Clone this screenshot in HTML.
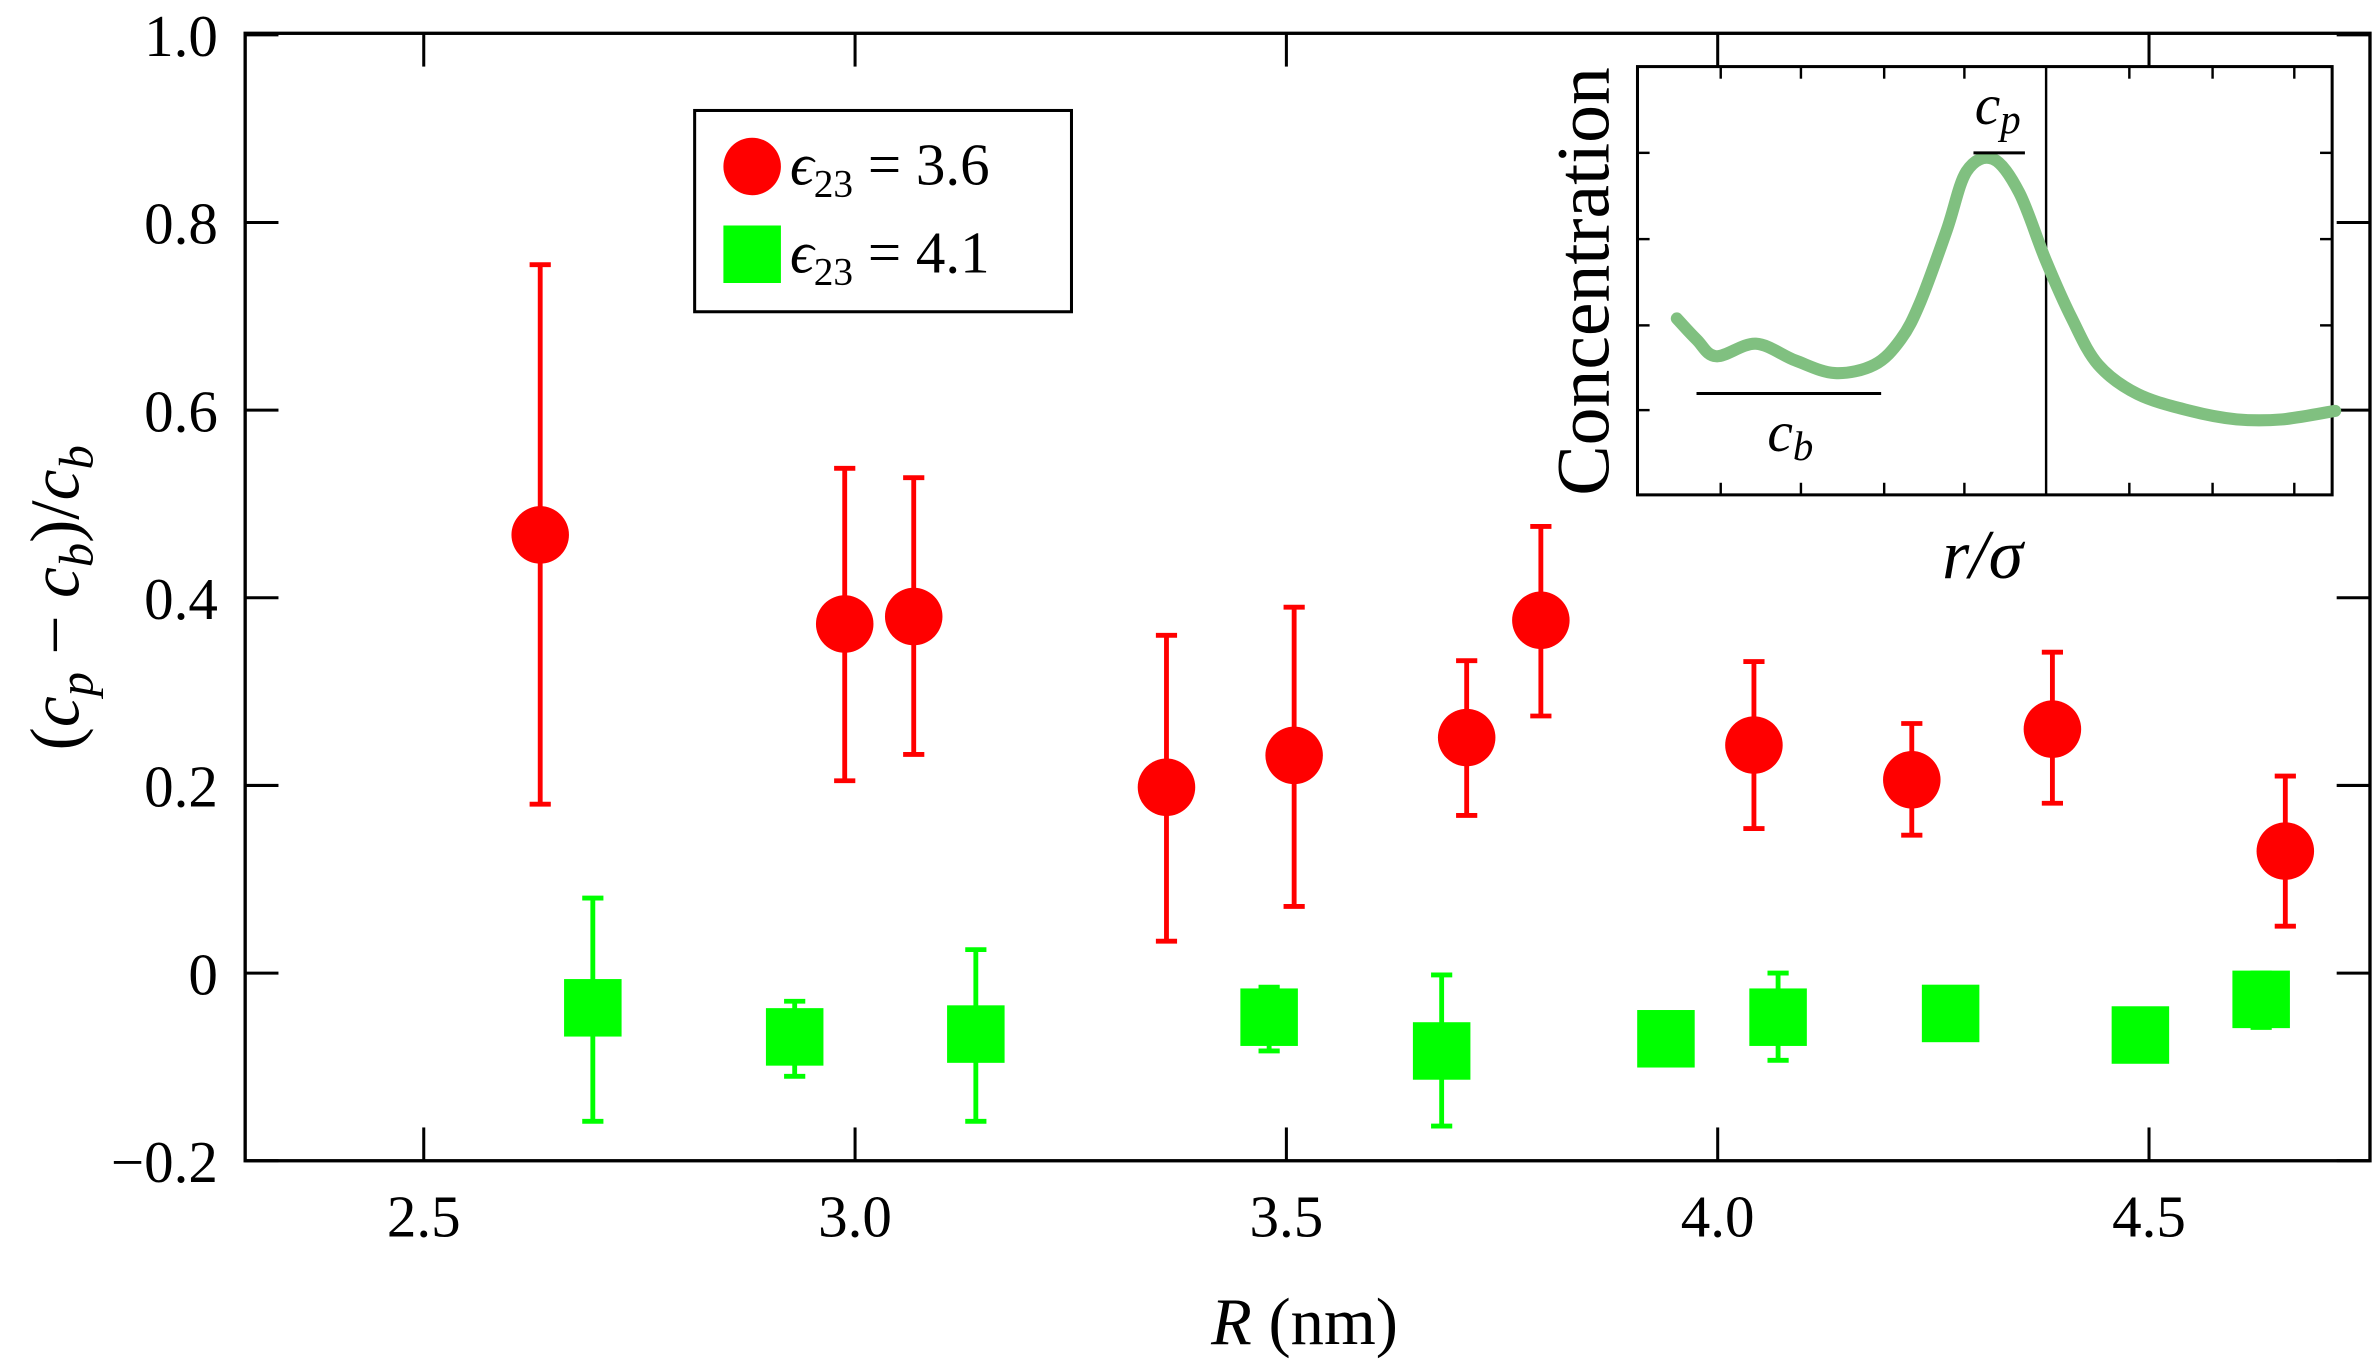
<!DOCTYPE html>
<html><head><meta charset="utf-8"><style>
html,body{margin:0;padding:0;background:#fff}
svg{display:block}
text{font-family:"Liberation Serif",serif;fill:#000}
</style></head><body>
<svg id="chart" width="2373" height="1359" viewBox="0 0 1568 898" preserveAspectRatio="none" xmlns="http://www.w3.org/2000/svg">
<g id="main"></g>
<g id="inset"></g>
</svg>
<script>
const redX=[2.635,2.988,3.068,3.361,3.509,3.709,3.795,4.042,4.225,4.388,4.658];
const redY=[0.467,0.372,0.380,0.198,0.232,0.251,0.376,0.243,0.206,0.260,0.130];
const redLo=[0.18,0.205,0.233,0.034,0.071,0.168,0.274,0.154,0.147,0.181,0.050];
const redHi=[0.755,0.538,0.528,0.360,0.390,0.333,0.476,0.332,0.266,0.342,0.210];
const grnX=[2.696,2.93,3.14,3.48,3.68,3.94,4.07,4.27,4.49,4.63];
const grnY=[-0.037,-0.068,-0.065,-0.047,-0.083,-0.070,-0.047,-0.043,-0.066,-0.028];
const grnLo=[-0.158,-0.110,-0.158,-0.083,-0.163,-0.070,-0.093,-0.043,-0.066,-0.058];
const grnHi=[0.080,-0.030,0.025,-0.015,-0.002,-0.070,0.000,-0.043,-0.066,0.000];
const xTicks=[2.5,3.0,3.5,4.0,4.5];
const xTickLabels=["2.5","3.0","3.5","4.0","4.5"];
const yTicks=[-0.2,0,0.2,0.4,0.6,0.8,1.0];
const yTickLabels=["\u22120.2","0","0.2","0.4","0.6","0.8","1.0"];
const insetR=[0,0.03,0.06,0.12,0.18,0.24,0.3,0.34,0.37,0.41,0.44,0.48,0.52,0.56,0.6,0.64,0.7,0.78,0.85,0.92,1.0];
const insetC=[0.42,0.37,0.33,0.36,0.32,0.29,0.31,0.37,0.46,0.63,0.77,0.80,0.72,0.56,0.42,0.31,0.24,0.20,0.18,0.18,0.20];

const NS="http://www.w3.org/2000/svg";
function mk(parent,tag,attrs,txt){const e=document.createElementNS(NS,tag);for(const k in attrs)e.setAttribute(k,attrs[k]);if(txt!==undefined)e.textContent=txt;parent.appendChild(e);return e;}
const L=162,R=1566,T=22,B=767;
const xs=v=>280+(v-2.5)*570;
const ys=v=>643-v*620;
const g=document.getElementById('main');

let ax=mk(g,'rect',{x:L,y:T,width:R-L,height:B-T,fill:'none',stroke:'#000','stroke-width':2.2});


xTicks.forEach((t,i)=>{
  let l=mk(g,'line',{x1:xs(t),x2:xs(t),y1:B,y2:B-22,stroke:'#000','stroke-width':2});
  
  
  mk(g,'line',{x1:xs(t),x2:xs(t),y1:T,y2:T+22,stroke:'#000','stroke-width':2});
  let tx=mk(g,'text',{x:xs(t),y:B+50,'font-size':39,'text-anchor':'middle'},xTickLabels[i]);
  
  
});
yTicks.forEach((t,i)=>{
  let l=mk(g,'line',{x1:L,x2:L+22,y1:ys(t),y2:ys(t),stroke:'#000','stroke-width':2});
  
  
  mk(g,'line',{x1:R,x2:R-22,y1:ys(t),y2:ys(t),stroke:'#000','stroke-width':2});
  let tx=mk(g,'text',{x:L-18,y:ys(t)+14,'font-size':39,'text-anchor':'end'},yTickLabels[i]);
  
  
});
let xt=mk(g,'text',{x:862,y:888,'font-size':44,'text-anchor':'middle'});


xt.innerHTML='<tspan font-style="italic">R</tspan> (nm)';
let yt=mk(g,'text',{x:0,y:0,'font-size':46,'text-anchor':'middle',transform:'translate(52,395) rotate(-90)'});


yt.innerHTML='(<tspan font-style="italic">c</tspan><tspan font-style="italic" font-size="32" dy="9">p</tspan><tspan dy="-9"> \u2212 </tspan><tspan font-style="italic">c</tspan><tspan font-style="italic" font-size="32" dy="9">b</tspan><tspan dy="-9">)/</tspan><tspan font-style="italic">c</tspan><tspan font-style="italic" font-size="32" dy="9">b</tspan>';

function series(X,Y,Lo,Hi,col,shape,name){
  const sg=mk(g,'g',{});
  
  
  X.forEach((x,i)=>{
    const px=xs(x),py=ys(Y[i]);
    if(Hi[i]!==Lo[i]){
      const eb=mk(sg,'path',{d:`M${px},${ys(Lo[i])}V${ys(Hi[i])}M${px-7},${ys(Lo[i])}H${px+7}M${px-7},${ys(Hi[i])}H${px+7}`,stroke:col,'stroke-width':3.2,fill:'none'});
      
      
    }
    let m;
    if(shape==='c') m=mk(sg,'circle',{cx:px,cy:py,r:19,fill:col});
    else m=mk(sg,'rect',{x:px-19,y:py-19,width:38,height:38,fill:col});
    
    
  });
}
series(redX,redY,redLo,redHi,'#ff0000','c','series-eps-3-6');
series(grnX,grnY,grnLo,grnHi,'#00ff00','s','series-eps-4-1');

const lg=mk(g,'g',{});


mk(lg,'rect',{x:459,y:73,width:249,height:133,fill:'#fff',stroke:'#000','stroke-width':2});
mk(lg,'circle',{cx:497,cy:110,r:19,fill:'#ff0000'});
mk(lg,'rect',{x:478,y:149,width:38,height:38,fill:'#00ff00'});
let l1=mk(lg,'text',{x:522,y:122,'font-size':39});


l1.innerHTML='<tspan font-style="italic">\u03f5</tspan><tspan font-size="26" dy="8">23</tspan><tspan dy="-8"> = 3.6</tspan>';
let l2=mk(lg,'text',{x:522,y:180,'font-size':39});


l2.innerHTML='<tspan font-style="italic">\u03f5</tspan><tspan font-size="26" dy="8">23</tspan><tspan dy="-8"> = 4.1</tspan>';

const ig=document.getElementById('inset');
const iL=1082,iR=1541,iT=44,iB=327;
const ix=v=>1108+v*(1543-1108);
const iy=v=>327-v*277.5;
mk(ig,'rect',{x:iL,y:iT,width:iR-iL,height:iB-iT,fill:'#fff',stroke:'#000','stroke-width':2});
[1137,1190,1245,1298,1407,1462,1516].forEach(x=>{
  mk(ig,'line',{x1:x,x2:x,y1:iT,y2:iT+8,stroke:'#000','stroke-width':1.6});
  mk(ig,'line',{x1:x,x2:x,y1:iB,y2:iB-8,stroke:'#000','stroke-width':1.6});
});
[101,158,215,271].forEach(y=>{
  mk(ig,'line',{x1:iL,x2:iL+8,y1:y,y2:y,stroke:'#000','stroke-width':1.6});
  mk(ig,'line',{x1:iR,x2:iR-8,y1:y,y2:y,stroke:'#000','stroke-width':1.6});
});
mk(ig,'line',{x1:1352,x2:1352,y1:iT,y2:iB,stroke:'#000','stroke-width':1.6});
const P=insetR.map((r,i)=>[ix(r),iy(insetC[i])]);
let d='M'+P[0][0]+','+P[0][1];
for(let i=0;i<P.length-1;i++){
  const p0=P[Math.max(0,i-1)],p1=P[i],p2=P[i+1],p3=P[Math.min(P.length-1,i+2)];
  const c1=[p1[0]+(p2[0]-p0[0])/6,p1[1]+(p2[1]-p0[1])/6];
  const c2=[p2[0]-(p3[0]-p1[0])/6,p2[1]-(p3[1]-p1[1])/6];
  d+=`C${c1[0].toFixed(1)},${c1[1].toFixed(1)} ${c2[0].toFixed(1)},${c2[1].toFixed(1)} ${p2[0].toFixed(1)},${p2[1].toFixed(1)}`;
}
let cv=mk(ig,'path',{d:d,fill:'none',stroke:'#80c080','stroke-width':8,'stroke-linecap':'round','stroke-linejoin':'round'});


mk(ig,'line',{x1:1121,x2:1243,y1:260,y2:260,stroke:'#000','stroke-width':2});
mk(ig,'line',{x1:1304,x2:1338,y1:101,y2:101,stroke:'#000','stroke-width':2});
let cb=mk(ig,'text',{x:1183,y:298,'font-size':38,'text-anchor':'middle'});


cb.innerHTML='<tspan font-style="italic">c</tspan><tspan font-style="italic" font-size="27" dy="6">b</tspan>';
let cp=mk(ig,'text',{x:1320,y:82,'font-size':38,'text-anchor':'middle'});


cp.innerHTML='<tspan font-style="italic">c</tspan><tspan font-style="italic" font-size="27" dy="6">p</tspan>';
let ixt=mk(ig,'text',{x:1310,y:382,'font-size':46,'text-anchor':'middle','font-style':'italic'},'r/\u03c3');


let iyt=mk(ig,'text',{x:0,y:0,'font-size':50,'text-anchor':'middle',transform:'translate(1063,186) rotate(-90)'},'Concentration');


</script>
</body></html>
